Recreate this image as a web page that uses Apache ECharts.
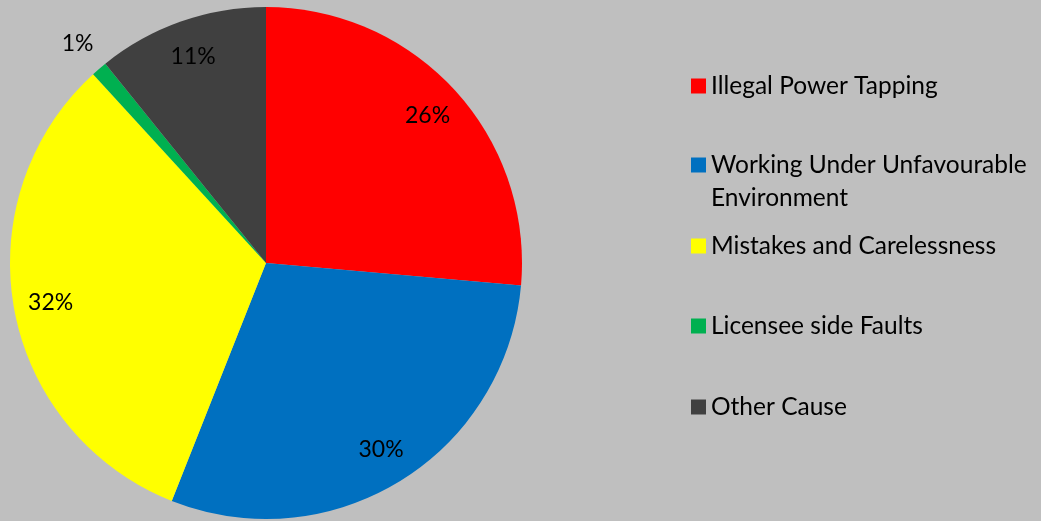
<!DOCTYPE html>
<html>
<head>
<meta charset="utf-8">
<script src="https://cdn.jsdelivr.net/npm/echarts@6/dist/echarts.min.js"></script>
<style>
html,body{margin:0;padding:0;background:#bfbfbf;}
#chart{width:1041px;height:521px;}
</style>
</head>
<body>
<div id="chart"></div>
<script>
const categories = ['Illegal Power Tapping', 'Working Under Unfavourable Environment', 'Mistakes and Carelessness', 'Licensee side Faults', 'Other Cause'];
const legendLabels = ['Illegal Power Tapping', '\nWorking Under Unfavourable\nEnvironment', 'Mistakes and Carelessness', 'Licensee side Faults', 'Other Cause'];
const values = [26.4, 29.6, 32.2, 1.0, 10.8];
const colors = ['#ff0000', '#0070c0', '#ffff00', '#00b050', '#404040'];

const FONT = 'Lato';
const data = categories.map((c, i) => ({ name: c, value: values[i], itemStyle: { color: colors[i] } }));
const total = values.reduce((a, b) => a + b, 0);
const pct = v => Math.round(v / total * 100) + '%';

const legendTops = [69.5, 115.5, 229.5, 309.5, 390.5];
const legends = categories.map((c, i) => ({
  orient: 'vertical',
  left: 691,
  top: legendTops[i],
  padding: 0,
  itemWidth: 15,
  itemHeight: 15,
  itemGap: 0,
  selectedMode: false,
  icon: 'rect',
  data: [c],
  formatter: () => legendLabels[i],
  textStyle: { fontFamily: FONT, fontSize: 24.5, color: '#000', lineHeight: 33 }
}));

const center = [266, 263];
const chart = echarts.init(document.getElementById('chart'), null, { renderer: 'canvas' });
chart.setOption({
  backgroundColor: '#bfbfbf',
  animation: false,
  legend: legends,
  series: [
    {
      type: 'pie', center: center, radius: [0, 256], startAngle: 90, clockwise: true,
      data: data, label: { show: false }, labelLine: { show: false },
      itemStyle: { borderWidth: 0 }, silent: true
    },
    {
      type: 'pie', center: center, radius: [176, 256], startAngle: 90, clockwise: true,
      data: categories.map((c, i) => ({ name: c, value: values[i] })),
      itemStyle: { color: 'rgba(0,0,0,0)', borderWidth: 0 }, silent: true,
      avoidLabelOverlap: false, labelLine: { show: false },
      label: {
        show: true, position: 'inside',
        formatter: p => (p.value / total < 0.05 ? '' : pct(p.value)),
        fontFamily: FONT, fontSize: 23, color: '#000'
      }
    },
    {
      type: 'pie', center: center, radius: [256, 316], startAngle: 90, clockwise: true,
      data: categories.map((c, i) => ({ name: c, value: values[i] })),
      itemStyle: { color: 'rgba(0,0,0,0)', borderWidth: 0 }, silent: true,
      avoidLabelOverlap: false, labelLine: { show: false },
      label: {
        show: true, position: 'inside',
        formatter: p => (p.value / total < 0.05 ? pct(p.value) : ''),
        fontFamily: FONT, fontSize: 23, color: '#000'
      }
    }
  ]
});
</script>
</body>
</html>
